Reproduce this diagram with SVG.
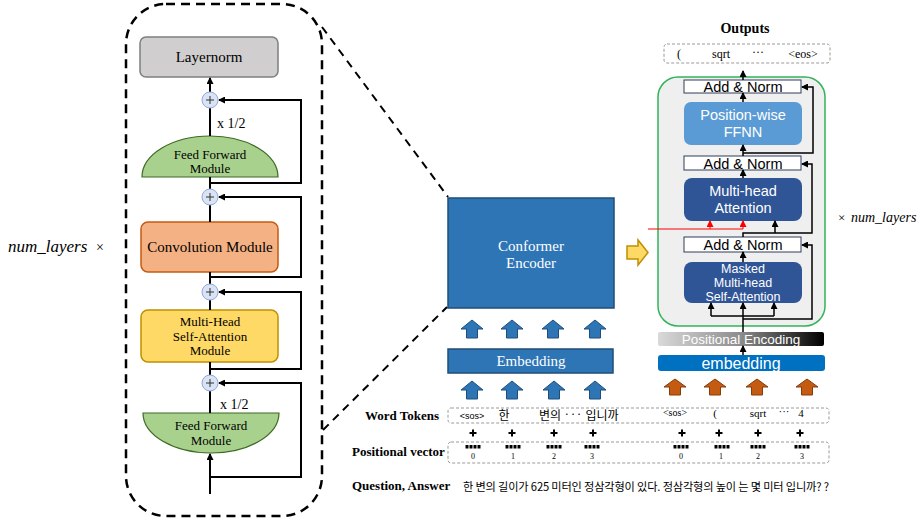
<svg xmlns="http://www.w3.org/2000/svg" width="923" height="520" viewBox="0 0 923 520">
<defs>
<style>
.serif{font-family:"Liberation Serif","Times New Roman",serif;}
.sans{font-family:"Liberation Sans",Arial,sans-serif;}
.kr{font-family:"Noto Sans CJK KR","Noto Sans",sans-serif;}
.ln{fill:none;stroke:#000;stroke-width:2;}
.dl{fill:none;stroke:#000;stroke-width:1.5;}
.an rect{fill:#fff;stroke:#2f3f5f;stroke-width:1;}
.an text{font-size:14.5px;fill:#000;}
.wt{fill:#fff;}
.dash{fill:none;stroke:#999;stroke-width:1;stroke-dasharray:3 2;}
.num{font-size:8px;}
</style>
<marker id="ah" markerWidth="7" markerHeight="7" refX="6" refY="3.5" orient="auto" markerUnits="userSpaceOnUse">
<path d="M0,0 L7,3.5 L0,7 Z" fill="#000"/>
</marker>
<marker id="ahr" markerWidth="7" markerHeight="7" refX="6" refY="3.5" orient="auto" markerUnits="userSpaceOnUse">
<path d="M0,0 L7,3.5 L0,7 Z" fill="#ff0000"/>
</marker>
<path id="bup" d="M0,0 L11,9 L5.5,9 L5.5,18 L-5.5,18 L-5.5,9 L-11,9 Z" fill="#2e75b6" stroke="#1f4e79" stroke-width="1"/>
<path id="oup" d="M0,0 L11,8 L5.5,8 L5.5,16 L-5.5,16 L-5.5,8 L-11,8 Z" fill="#c55a11" stroke="#843c0c" stroke-width="1"/>
<g id="pl"><circle cx="0" cy="0" r="8" fill="#dae3f3" stroke="#8faadc" stroke-width="1"/><path d="M-4,0 H4 M0,-4 V4" stroke="#333" stroke-width="1" fill="none"/></g>
<g id="cr" fill="#000"><rect x="-3.5" y="-1" width="7" height="2"/><rect x="-1" y="-3.5" width="2" height="7"/></g>
<g id="sqs" fill="#000"><rect x="-7.5" y="0" width="3" height="3.5"/><rect x="-3.5" y="0" width="3" height="3.5"/><rect x="0.5" y="0" width="3" height="3.5"/><rect x="4.5" y="0" width="3" height="3.5"/></g>
<linearGradient id="pegrad" x1="0" y1="0" x2="1" y2="0">
<stop offset="0" stop-color="#d9d9d9"/>
<stop offset="0.5" stop-color="#8c8c8c"/>
<stop offset="1" stop-color="#000"/>
</linearGradient>
</defs>
<rect width="923" height="520" fill="#fff"/>

<!-- left conformer block -->
<g id="conformer-panel">
<rect x="126" y="4" width="196" height="512" rx="40" fill="none" stroke="#000" stroke-width="2.5" stroke-dasharray="9 6"/>
</g>
<text x="8" y="252" class="serif" font-size="17" font-style="italic">num_layers</text>
<text x="100" y="252" class="serif" font-size="14" text-anchor="middle">×</text>

<g id="layernorm">
<rect x="140" y="37" width="138" height="40" rx="6" fill="#d0cece" stroke="#7f7f7f" stroke-width="1.5"/>
<text x="209" y="62" class="serif" font-size="15" text-anchor="middle">Layernorm</text>
</g>
<g id="ffm-top">
<path d="M142,177 A68,41 0 0 1 278,177 Z" fill="#a9d18e" stroke="#3d6b23" stroke-width="1.2"/>
<text x="210" y="159" class="serif" font-size="13" text-anchor="middle">Feed Forward</text>
<text x="210" y="173" class="serif" font-size="13" text-anchor="middle">Module</text>
</g>
<g id="conv-module">
<rect x="141" y="222" width="137" height="50" rx="7" fill="#f4b183" stroke="#c55a11" stroke-width="1.5"/>
<text x="210" y="252" class="serif" font-size="15" text-anchor="middle">Convolution Module</text>
</g>
<g id="mhsa-module">
<rect x="141" y="310" width="137" height="52" rx="7" fill="#ffd966" stroke="#bf9000" stroke-width="1.5"/>
<text x="210" y="326" class="serif" font-size="13" text-anchor="middle">Multi-Head</text>
<text x="210" y="341" class="serif" font-size="13" text-anchor="middle">Self-Attention</text>
<text x="210" y="355" class="serif" font-size="13" text-anchor="middle">Module</text>
</g>
<g id="ffm-bottom">
<path d="M143,413 A68,40 0 0 0 279,413 Z" fill="#a9d18e" stroke="#3d6b23" stroke-width="1.2"/>
<text x="211" y="430" class="serif" font-size="13" text-anchor="middle">Feed Forward</text>
<text x="211" y="445" class="serif" font-size="13" text-anchor="middle">Module</text>
</g>
<text x="217" y="128" class="serif" font-size="14">x 1/2</text>
<text x="220" y="409" class="serif" font-size="14">x 1/2</text>

<!-- encoder -->
<g id="conformer-encoder">
<rect x="448" y="198" width="166" height="110" fill="#2e75b6" stroke="#1f4e79" stroke-width="1.5"/>
<text x="531" y="251" class="serif wt" font-size="15" text-anchor="middle">Conformer</text>
<text x="531" y="268" class="serif wt" font-size="15" text-anchor="middle">Encoder</text>
</g>
<g id="enc-arrows-top">
<use href="#bup" x="472" y="320"/>
<use href="#bup" x="512" y="320"/>
<use href="#bup" x="553" y="320"/>
<use href="#bup" x="595" y="320"/>
</g>
<g id="enc-embedding">
<rect x="448" y="349" width="165" height="24" fill="#2e75b6" stroke="#1f4e79" stroke-width="1.5"/>
<text x="531" y="366" class="serif wt" font-size="15" text-anchor="middle">Embedding</text>
</g>
<g id="enc-arrows-bottom">
<use href="#bup" x="472" y="381"/>
<use href="#bup" x="512" y="381"/>
<use href="#bup" x="554" y="381"/>
<use href="#bup" x="595" y="381"/>
</g>
<g id="yellow-arrow">
<path d="M627,246 L638,246 L638,240 L648,252.5 L638,265 L638,259 L627,259 Z" fill="#ffd966" stroke="#bf9000" stroke-width="1.5"/>
</g>

<!-- decoder -->
<text x="745" y="33" class="serif" font-size="14" font-weight="bold" text-anchor="middle">Outputs</text>
<g id="outputs">
<rect x="664" y="44" width="166" height="19" rx="3" class="dash"/>
<text x="677" y="58" class="serif" font-size="12">(</text>
<text x="721" y="58" class="serif" font-size="12" text-anchor="middle">sqrt</text>
<text x="758" y="56" class="serif" font-size="12" text-anchor="middle">···</text>
<text x="803" y="58" class="serif" font-size="12" text-anchor="middle">&lt;eos&gt;</text>
</g>
<g id="decoder-block">
<rect x="658" y="77" width="167" height="249" rx="20" fill="#efefef" stroke="#33b35a" stroke-width="1.5"/>
</g>
<g id="add-norm-1" class="an">
<rect x="684" y="80" width="117" height="13"/>
<text x="743" y="91.5" class="sans" text-anchor="middle">Add &amp; Norm</text>
</g>
<g id="ffnn">
<rect x="684" y="102" width="118" height="43" rx="7" fill="#5b9bd5"/>
<text x="743" y="120" class="sans wt" font-size="14.5" text-anchor="middle">Position-wise</text>
<text x="743" y="136.5" class="sans wt" font-size="14.5" text-anchor="middle">FFNN</text>
</g>
<g id="add-norm-2" class="an">
<rect x="684" y="156" width="117" height="14"/>
<text x="743" y="168.5" class="sans" text-anchor="middle">Add &amp; Norm</text>
</g>
<g id="mha">
<rect x="684" y="178" width="118" height="43" rx="8" fill="#2f5597"/>
<text x="743" y="196" class="sans wt" font-size="14.5" text-anchor="middle">Multi-head</text>
<text x="743" y="212.5" class="sans wt" font-size="14.5" text-anchor="middle">Attention</text>
</g>
<g id="add-norm-3" class="an">
<rect x="684" y="237" width="117" height="15"/>
<text x="743" y="249.5" class="sans" text-anchor="middle">Add &amp; Norm</text>
</g>
<g id="masked-mha">
<rect x="684" y="262" width="118" height="41" rx="8" fill="#2f5597"/>
<text x="743" y="273" class="sans wt" font-size="12.5" text-anchor="middle">Masked</text>
<text x="743" y="287" class="sans wt" font-size="12.5" text-anchor="middle">Multi-head</text>
<text x="743" y="301" class="sans wt" font-size="12.5" text-anchor="middle">Self-Attention</text>
</g>
<text x="838" y="222" class="serif" font-size="13">×</text>
<text x="851" y="222" class="serif" font-size="14" font-style="italic">num_layers</text>
<g id="positional-encoding">
<rect x="658" y="332" width="166" height="14" rx="2" fill="url(#pegrad)"/>
<text x="741" y="344" class="sans wt" font-size="13.5" text-anchor="middle">Positional Encoding</text>
</g>
<g id="dec-embedding">
<rect x="658" y="355" width="167" height="16" rx="3" fill="#0070c0"/>
<text x="741" y="368.5" class="sans wt" font-size="16" text-anchor="middle">embedding</text>
</g>
<g id="dec-arrows">
<use href="#oup" x="675" y="379"/>
<use href="#oup" x="715" y="379"/>
<use href="#oup" x="757" y="379"/>
<use href="#oup" x="807" y="379"/>
</g>

<!-- bottom -->
<g id="word-tokens">
<text x="365" y="420" class="serif" font-size="13" font-weight="bold">Word Tokens</text>
<rect x="448" y="408" width="381" height="15" rx="3" class="dash"/>
<text x="472" y="419" class="sans" font-size="9" text-anchor="middle">&lt;sos&gt;</text>
<text x="504" y="420" class="kr" font-size="12" text-anchor="middle">한</text>
<text x="550" y="420" class="kr" font-size="12" text-anchor="middle">변의</text>
<text x="573" y="418" class="kr" font-size="11" text-anchor="middle">···</text>
<text x="602" y="420" class="kr" font-size="12" text-anchor="middle">입니까</text>
<text x="675" y="416" class="serif" font-size="10" text-anchor="middle">&lt;sos&gt;</text>
<text x="715" y="417" class="serif" font-size="11" text-anchor="middle">(</text>
<text x="758" y="417" class="serif" font-size="11" text-anchor="middle">sqrt</text>
<text x="784" y="415" class="serif" font-size="11" text-anchor="middle">···</text>
<text x="801" y="417" class="serif" font-size="11" text-anchor="middle">4</text>
</g>
<g id="crosses">
<use href="#cr" x="473" y="433"/>
<use href="#cr" x="512" y="433"/>
<use href="#cr" x="554" y="433"/>
<use href="#cr" x="593" y="433"/>
<use href="#cr" x="682" y="433"/>
<use href="#cr" x="719" y="433"/>
<use href="#cr" x="758" y="433"/>
<use href="#cr" x="800" y="433"/>
</g>
<g id="positional-vector">
<text x="352" y="456" class="serif" font-size="13" font-weight="bold">Positional vector</text>
<rect x="448" y="442" width="381" height="21" rx="3" class="dash"/>
<use href="#sqs" x="473" y="445"/>
<use href="#sqs" x="513" y="445"/>
<use href="#sqs" x="554" y="445"/>
<use href="#sqs" x="592" y="445"/>
<use href="#sqs" x="681" y="445"/>
<use href="#sqs" x="722" y="445"/>
<use href="#sqs" x="758" y="445"/>
<use href="#sqs" x="802" y="445"/>
<text x="473" y="459" class="serif num" text-anchor="middle">0</text>
<text x="513" y="459" class="serif num" text-anchor="middle">1</text>
<text x="554" y="459" class="serif num" text-anchor="middle">2</text>
<text x="592" y="459" class="serif num" text-anchor="middle">3</text>
<text x="681" y="459" class="serif num" text-anchor="middle">0</text>
<text x="721" y="459" class="serif num" text-anchor="middle">1</text>
<text x="758" y="459" class="serif num" text-anchor="middle">2</text>
<text x="802" y="459" class="serif num" text-anchor="middle">3</text>
</g>
<g id="question-answer">
<text x="352" y="490" class="serif" font-size="13" font-weight="bold">Question, Answer</text>
<text x="463" y="491" class="kr" font-size="11.2" textLength="366" lengthAdjust="spacing">한 변의 길이가 625 미터인 정삼각형이 있다.  정삼각형의 높이 는 몇 미터 입니까? ?</text>
</g>

<g id="connectors">
<!-- left -->
<path class="ln" d="M210,136 V108"/>
<path class="ln" d="M210,92 V78" marker-end="url(#ah)"/>
<path class="ln" d="M210,189 V177"/>
<path class="ln" d="M210,183 H301 V100 H219" marker-end="url(#ah)"/>
<path class="ln" d="M210,222 V205"/>
<path class="ln" d="M210,277 H301 V197 H219" marker-end="url(#ah)"/>
<path class="ln" d="M210,272 V284"/>
<path class="ln" d="M210,300 V310"/>
<path class="ln" d="M210,369 H301 V292 H219" marker-end="url(#ah)"/>
<path class="ln" d="M210,362 V375"/>
<path class="ln" d="M210,391 V413"/>
<path class="ln" d="M210,477 H301 V383 H219" marker-end="url(#ah)"/>
<path class="ln" d="M210,494 V454" marker-end="url(#ah)"/>
<!-- zoom lines -->
<path d="M322,27 L448,197" fill="none" stroke="#000" stroke-width="2" stroke-dasharray="8 6"/>
<path d="M323,430 L447,307" fill="none" stroke="#000" stroke-width="2" stroke-dasharray="8 6"/>
<!-- decoder -->
<path class="dl" d="M743,80 V71" marker-end="url(#ah)"/>
<path class="dl" d="M743,102 V93" marker-end="url(#ah)"/>
<path class="dl" d="M743,156 V145" marker-end="url(#ah)"/>
<path class="dl" d="M743,153 H813 V87 H802" marker-end="url(#ah)"/>
<path class="dl" d="M743,178 V170" marker-end="url(#ah)"/>
<path class="dl" d="M743,237 V233 H812 V164 H802" marker-end="url(#ah)"/>
<path class="dl" d="M775,233 V221" marker-end="url(#ah)"/>
<path class="dl" d="M743,262 V252" marker-end="url(#ah)"/>
<path class="dl" d="M743,319 H812 V245 H802" marker-end="url(#ah)"/>
<path class="dl" d="M743,332 V303" marker-end="url(#ah)"/>
<path class="dl" d="M711,316 H774"/>
<path class="dl" d="M711,316 V303" marker-end="url(#ah)"/>
<path class="dl" d="M774,316 V303" marker-end="url(#ah)"/>
<path class="dl" d="M743,355 V346" marker-end="url(#ah)"/>
<!-- red encoder output -->
<path d="M648,229 H743" fill="none" stroke="#ff0000" stroke-width="1"/>
<path d="M710,229 V221" fill="none" stroke="#ff0000" stroke-width="1" marker-end="url(#ahr)"/>
<path d="M743,229 V221" fill="none" stroke="#ff0000" stroke-width="1" marker-end="url(#ahr)"/>
</g>
<g id="adds-left">
<use href="#pl" x="210" y="100"/>
<use href="#pl" x="210" y="197"/>
<use href="#pl" x="210" y="292"/>
<use href="#pl" x="210" y="383"/>
</g>
</svg>
